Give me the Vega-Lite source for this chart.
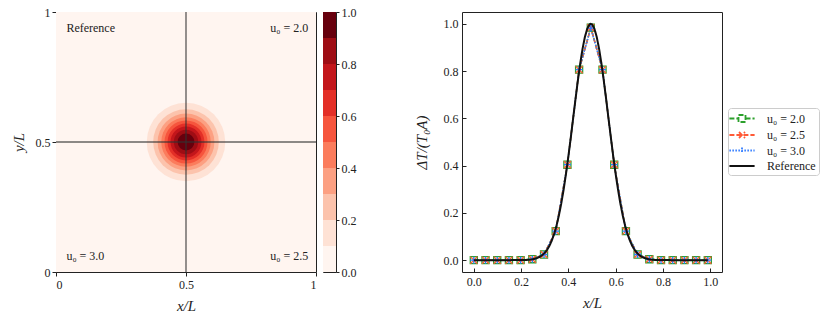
{
  "$schema": "https://vega.github.io/schema/vega-lite/v6.json",
  "padding": {"left": 10, "top": 5, "right": 0, "bottom": 0},
  "background": "white",
  "resolve": {"scale": {"color": "independent", "strokeDash": "independent", "shape": "independent"}},
  "datasets": {
    "heat": [
      {"level": 0.1, "r": 0.151},
      {"level": 0.2, "r": 0.1262},
      {"level": 0.3, "r": 0.1092},
      {"level": 0.4, "r": 0.0952},
      {"level": 0.5, "r": 0.0828},
      {"level": 0.6, "r": 0.0711},
      {"level": 0.7, "r": 0.0594},
      {"level": 0.8, "r": 0.047},
      {"level": 0.9, "r": 0.0323}
    ],
    "cbar": [
      {"lo": 0.0, "hi": 0.1}, {"lo": 0.1, "hi": 0.2}, {"lo": 0.2, "hi": 0.3}, {"lo": 0.3, "hi": 0.4}, {"lo": 0.4, "hi": 0.5},
      {"lo": 0.5, "hi": 0.6}, {"lo": 0.6, "hi": 0.7}, {"lo": 0.7, "hi": 0.8}, {"lo": 0.8, "hi": 0.9}, {"lo": 0.9, "hi": 1.0}
    ],
    "labels": [
      {"t": "Reference", "x": 0.04, "y": 0.94},
      {"t": "u₀ = 3.0", "x": 0.04, "y": 0.06},
      {"t": "u₀ = 2.0", "x": 0.97, "y": 0.94},
      {"t": "u₀ = 2.5", "x": 0.97, "y": 0.06}
    ],
    "pts": [
      {"s": "u₀ = 2.0", "x": 0, "v": 0}, {"s": "u₀ = 2.0", "x": 0.0495, "v": 0}, {"s": "u₀ = 2.0", "x": 0.099, "v": 0}, {"s": "u₀ = 2.0", "x": 0.1485, "v": 0}, {"s": "u₀ = 2.0", "x": 0.198, "v": 0}, {"s": "u₀ = 2.0", "x": 0.2475, "v": 0.004}, {"s": "u₀ = 2.0", "x": 0.297, "v": 0.024}, {"s": "u₀ = 2.0", "x": 0.3465, "v": 0.123}, {"s": "u₀ = 2.0", "x": 0.396, "v": 0.404}, {"s": "u₀ = 2.0", "x": 0.4455, "v": 0.806}, {"s": "u₀ = 2.0", "x": 0.495, "v": 0.984}, {"s": "u₀ = 2.0", "x": 0.5445, "v": 0.806}, {"s": "u₀ = 2.0", "x": 0.594, "v": 0.404}, {"s": "u₀ = 2.0", "x": 0.6435, "v": 0.123}, {"s": "u₀ = 2.0", "x": 0.693, "v": 0.024}, {"s": "u₀ = 2.0", "x": 0.7425, "v": 0.004}, {"s": "u₀ = 2.0", "x": 0.792, "v": 0}, {"s": "u₀ = 2.0", "x": 0.8415, "v": 0}, {"s": "u₀ = 2.0", "x": 0.891, "v": 0}, {"s": "u₀ = 2.0", "x": 0.9405, "v": 0}, {"s": "u₀ = 2.0", "x": 0.99, "v": 0},
      {"s": "u₀ = 2.5", "x": 0, "v": 0}, {"s": "u₀ = 2.5", "x": 0.0495, "v": 0}, {"s": "u₀ = 2.5", "x": 0.099, "v": 0}, {"s": "u₀ = 2.5", "x": 0.1485, "v": 0}, {"s": "u₀ = 2.5", "x": 0.198, "v": 0}, {"s": "u₀ = 2.5", "x": 0.2475, "v": 0.004}, {"s": "u₀ = 2.5", "x": 0.297, "v": 0.024}, {"s": "u₀ = 2.5", "x": 0.3465, "v": 0.123}, {"s": "u₀ = 2.5", "x": 0.396, "v": 0.404}, {"s": "u₀ = 2.5", "x": 0.4455, "v": 0.806}, {"s": "u₀ = 2.5", "x": 0.495, "v": 0.983}, {"s": "u₀ = 2.5", "x": 0.5445, "v": 0.806}, {"s": "u₀ = 2.5", "x": 0.594, "v": 0.404}, {"s": "u₀ = 2.5", "x": 0.6435, "v": 0.123}, {"s": "u₀ = 2.5", "x": 0.693, "v": 0.024}, {"s": "u₀ = 2.5", "x": 0.7425, "v": 0.004}, {"s": "u₀ = 2.5", "x": 0.792, "v": 0}, {"s": "u₀ = 2.5", "x": 0.8415, "v": 0}, {"s": "u₀ = 2.5", "x": 0.891, "v": 0}, {"s": "u₀ = 2.5", "x": 0.9405, "v": 0}, {"s": "u₀ = 2.5", "x": 0.99, "v": 0},
      {"s": "u₀ = 3.0", "x": 0, "v": 0}, {"s": "u₀ = 3.0", "x": 0.0495, "v": 0}, {"s": "u₀ = 3.0", "x": 0.099, "v": 0}, {"s": "u₀ = 3.0", "x": 0.1485, "v": 0}, {"s": "u₀ = 3.0", "x": 0.198, "v": 0}, {"s": "u₀ = 3.0", "x": 0.2475, "v": 0.004}, {"s": "u₀ = 3.0", "x": 0.297, "v": 0.024}, {"s": "u₀ = 3.0", "x": 0.3465, "v": 0.123}, {"s": "u₀ = 3.0", "x": 0.396, "v": 0.404}, {"s": "u₀ = 3.0", "x": 0.4455, "v": 0.806}, {"s": "u₀ = 3.0", "x": 0.495, "v": 0.982}, {"s": "u₀ = 3.0", "x": 0.5445, "v": 0.806}, {"s": "u₀ = 3.0", "x": 0.594, "v": 0.404}, {"s": "u₀ = 3.0", "x": 0.6435, "v": 0.123}, {"s": "u₀ = 3.0", "x": 0.693, "v": 0.024}, {"s": "u₀ = 3.0", "x": 0.7425, "v": 0.004}, {"s": "u₀ = 3.0", "x": 0.792, "v": 0}, {"s": "u₀ = 3.0", "x": 0.8415, "v": 0}, {"s": "u₀ = 3.0", "x": 0.891, "v": 0}, {"s": "u₀ = 3.0", "x": 0.9405, "v": 0}, {"s": "u₀ = 3.0", "x": 0.99, "v": 0}
    ],
    "ref": [
      {"s": "Reference", "x": 0.0, "v": 0}, {"s": "Reference", "x": 0.1, "v": 0}, {"s": "Reference", "x": 0.2, "v": 0.0004}, {"s": "Reference", "x": 0.21, "v": 0.0006}, {"s": "Reference", "x": 0.22, "v": 0.001}, {"s": "Reference", "x": 0.23, "v": 0.0016}, {"s": "Reference", "x": 0.24, "v": 0.0026}, {"s": "Reference", "x": 0.25, "v": 0.0042}, {"s": "Reference", "x": 0.26, "v": 0.0065}, {"s": "Reference", "x": 0.27, "v": 0.0098}, {"s": "Reference", "x": 0.28, "v": 0.0147}, {"s": "Reference", "x": 0.29, "v": 0.0216}, {"s": "Reference", "x": 0.3, "v": 0.0311}, {"s": "Reference", "x": 0.31, "v": 0.0439}, {"s": "Reference", "x": 0.32, "v": 0.061}, {"s": "Reference", "x": 0.33, "v": 0.0833}, {"s": "Reference", "x": 0.34, "v": 0.1115}, {"s": "Reference", "x": 0.35, "v": 0.1466}, {"s": "Reference", "x": 0.36, "v": 0.1894}, {"s": "Reference", "x": 0.37, "v": 0.2401}, {"s": "Reference", "x": 0.38, "v": 0.299}, {"s": "Reference", "x": 0.39, "v": 0.3654}, {"s": "Reference", "x": 0.4, "v": 0.4387}, {"s": "Reference", "x": 0.41, "v": 0.517}, {"s": "Reference", "x": 0.42, "v": 0.5983}, {"s": "Reference", "x": 0.43, "v": 0.6799}, {"s": "Reference", "x": 0.44, "v": 0.7587}, {"s": "Reference", "x": 0.45, "v": 0.8312}, {"s": "Reference", "x": 0.46, "v": 0.8942}, {"s": "Reference", "x": 0.47, "v": 0.9445}, {"s": "Reference", "x": 0.48, "v": 0.9797}, {"s": "Reference", "x": 0.49, "v": 0.9977}, {"s": "Reference", "x": 0.495, "v": 1.0}, {"s": "Reference", "x": 0.5, "v": 0.9977}, {"s": "Reference", "x": 0.51, "v": 0.9797}, {"s": "Reference", "x": 0.52, "v": 0.9445}, {"s": "Reference", "x": 0.53, "v": 0.8942}, {"s": "Reference", "x": 0.54, "v": 0.8312}, {"s": "Reference", "x": 0.55, "v": 0.7587}, {"s": "Reference", "x": 0.56, "v": 0.6799}, {"s": "Reference", "x": 0.57, "v": 0.5983}, {"s": "Reference", "x": 0.58, "v": 0.517}, {"s": "Reference", "x": 0.59, "v": 0.4387}, {"s": "Reference", "x": 0.6, "v": 0.3654}, {"s": "Reference", "x": 0.61, "v": 0.299}, {"s": "Reference", "x": 0.62, "v": 0.2401}, {"s": "Reference", "x": 0.63, "v": 0.1894}, {"s": "Reference", "x": 0.64, "v": 0.1466}, {"s": "Reference", "x": 0.65, "v": 0.1115}, {"s": "Reference", "x": 0.66, "v": 0.0833}, {"s": "Reference", "x": 0.67, "v": 0.061}, {"s": "Reference", "x": 0.68, "v": 0.0439}, {"s": "Reference", "x": 0.69, "v": 0.0311}, {"s": "Reference", "x": 0.7, "v": 0.0216}, {"s": "Reference", "x": 0.71, "v": 0.0147}, {"s": "Reference", "x": 0.72, "v": 0.0098}, {"s": "Reference", "x": 0.73, "v": 0.0065}, {"s": "Reference", "x": 0.74, "v": 0.0042}, {"s": "Reference", "x": 0.75, "v": 0.0026}, {"s": "Reference", "x": 0.76, "v": 0.0016}, {"s": "Reference", "x": 0.77, "v": 0.001}, {"s": "Reference", "x": 0.78, "v": 0.0006}, {"s": "Reference", "x": 0.79, "v": 0.0004}, {"s": "Reference", "x": 0.89, "v": 0}, {"s": "Reference", "x": 0.99, "v": 0}
    ]
  },
  "spacing": 56,
  "hconcat": [
    {
      "spacing": 4,
      "resolve": {"scale": {"color": "independent"}},
      "hconcat": [
        {
          "width": 260,
          "height": 260,
          "layer": [
            {
              "data": {"values": [{"x0": 0, "x1": 1, "y0": 0, "y1": 1, "level": 0}]},
              "mark": {"type": "rect"},
              "encoding": {
                "x": {"field": "x0", "type": "quantitative", "scale": {"domain": [0, 1], "nice": false}, "axis": {"values": [0, 0.5, 1], "format": "~g", "title": "x/L", "tickSize": 4, "labelPadding": 3, "titlePadding": 8}},
                "x2": {"field": "x1"},
                "y": {"field": "y0", "type": "quantitative", "scale": {"domain": [0, 1], "nice": false}, "axis": {"values": [0, 0.5, 1], "format": "~g", "title": "y/L", "tickSize": 4, "labelPadding": 2, "titlePadding": 9}},
                "y2": {"field": "y1"},
                "color": {"field": "level", "type": "ordinal", "scale": {"domain": [0, 0.1, 0.2, 0.3, 0.4, 0.5, 0.6, 0.7, 0.8, 0.9], "range": ["#fff5f0", "#fee2d5", "#fcc3ac", "#fca082", "#fb7c5c", "#f6553d", "#e32f27", "#c3161b", "#9e0d14", "#67000d"]}, "legend": null}
              }
            },
            {
              "data": {"name": "heat"},
              "mark": {"type": "arc", "theta": 0, "theta2": 6.2832},
              "encoding": {
                "radius": {"field": "r", "type": "quantitative", "stack": null, "scale": {"type": "linear", "domain": [0, 0.5], "range": [0, 130], "zero": true}},
                "color": {"field": "level", "type": "ordinal", "legend": null}
              }
            },
            {
              "data": {"values": [{"c": 0.5}]},
              "mark": {"type": "rule", "color": "#333", "strokeWidth": 1.4, "opacity": 0.75},
              "encoding": {"x": {"field": "c", "type": "quantitative"}}
            },
            {
              "data": {"values": [{"c": 0.5}]},
              "mark": {"type": "rule", "color": "#333", "strokeWidth": 1.4, "opacity": 0.75},
              "encoding": {"y": {"field": "c", "type": "quantitative"}}
            },
            {
              "data": {"name": "labels"},
              "transform": [{"filter": "datum.x < 0.5"}],
              "mark": {"type": "text", "align": "left", "baseline": "middle", "fontSize": 12, "color": "#222"},
              "encoding": {"x": {"field": "x", "type": "quantitative"}, "y": {"field": "y", "type": "quantitative"}, "text": {"field": "t"}}
            },
            {
              "data": {"name": "labels"},
              "transform": [{"filter": "datum.x >= 0.5"}],
              "mark": {"type": "text", "align": "right", "baseline": "middle", "fontSize": 12, "color": "#222"},
              "encoding": {"x": {"field": "x", "type": "quantitative"}, "y": {"field": "y", "type": "quantitative"}, "text": {"field": "t"}}
            }
          ]
        },
        {
          "width": 13,
          "height": 260,
          "data": {"name": "cbar"},
          "mark": {"type": "rect"},
          "encoding": {
            "y": {"field": "lo", "type": "quantitative", "scale": {"domain": [0, 1], "nice": false}, "axis": {"orient": "right", "values": [0, 0.2, 0.4, 0.6, 0.8, 1], "format": ".1f", "title": null, "tickSize": 3, "labelPadding": 2}},
            "y2": {"field": "hi"},
            "color": {"field": "lo", "type": "ordinal", "scale": {"domain": [0, 0.1, 0.2, 0.3, 0.4, 0.5, 0.6, 0.7, 0.8, 0.9], "range": ["#fff5f0", "#fee2d5", "#fcc3ac", "#fca082", "#fb7c5c", "#f6553d", "#e32f27", "#c3161b", "#9e0d14", "#67000d"]}, "legend": null}
          }
        }
      ]
    },
    {
      "width": 260,
      "height": 260,
      "encoding": {
        "x": {"field": "x", "type": "quantitative", "scale": {"domain": [-0.05, 1.05], "nice": false}, "axis": {"values": [0, 0.2, 0.4, 0.6, 0.8, 1], "format": ".1f", "title": "x/L", "tickSize": -4, "labelPadding": 8, "titlePadding": 8}},
        "y": {"field": "v", "type": "quantitative", "scale": {"domain": [-0.05, 1.05], "nice": false}, "axis": {"values": [0, 0.2, 0.4, 0.6, 0.8, 1], "format": ".1f", "title": "ΔT/(T₀A)", "tickSize": -4, "labelPadding": 8, "titlePadding": 14}}
      },
      "layer": [
        {
          "data": {"name": "pts"},
          "mark": {"type": "line", "strokeWidth": 1.5},
          "encoding": {
            "color": {"field": "s", "type": "nominal", "scale": {"domain": ["u₀ = 2.0", "u₀ = 2.5", "u₀ = 3.0", "Reference"], "range": ["#2ca02c", "#ff5a36", "#2f7bff", "#111111"]}, "title": null,
              "legend": {"orient": "none", "legendX": 266, "legendY": 96, "title": null, "symbolSize": 196, "symbolOffset": 3.5, "symbolStrokeWidth": 1.8, "labelFontSize": 12, "labelFont": "Liberation Serif, DejaVu Serif, serif", "labelColor": "#222", "padding": 2.5, "rowPadding": 0.5, "labelOffset": 17, "strokeColor": "#cccccc", "fillColor": "white", "cornerRadius": 3,
                "encode": {"symbols": {"update": {"fill": {"value": "transparent"}, "shape": {"signal": "datum.index === 0 ? 'M-1.8,0H-0.5M0.5,0H1.8M-0.5,-0.5H0.5V0.5H-0.5Z' : datum.index === 1 ? 'M-1.8,0H1.8M-0.43,-0.43L0.43,0.43M-0.43,0.43L0.43,-0.43' : datum.index === 2 ? 'M-1.8,0H1.8M0,-0.43V0.43' : 'M-1.8,0H1.8'"}}}}}},
            "strokeDash": {"field": "s", "type": "nominal", "title": null, "scale": {"domain": ["u₀ = 2.0", "u₀ = 2.5", "u₀ = 3.0", "Reference"], "range": [[5, 2], [5, 2], [1.5, 1.5], [1, 0]]}}
          }
        },
        {
          "data": {"name": "pts"},
          "mark": {"type": "point", "filled": false, "strokeWidth": 1.3, "size": 50, "opacity": 1},
          "encoding": {
            "color": {"field": "s", "type": "nominal", "title": null},
            "shape": {"field": "s", "type": "nominal", "legend": null, "scale": {"domain": ["u₀ = 2.0", "u₀ = 2.5", "u₀ = 3.0"], "range": ["square", "M-1,-1L1,1M-1,1L1,-1", "M-1,0L1,0M0,-1L0,1"]}}
          }
        },
        {
          "data": {"name": "ref"},
          "mark": {"type": "line", "strokeWidth": 2},
          "encoding": {
            "color": {"field": "s", "type": "nominal", "title": null},
            "strokeDash": {"field": "s", "type": "nominal", "title": null}
          }
        }
      ]
    }
  ],
  "config": {
    "font": "Liberation Serif, DejaVu Serif, serif",
    "view": {"stroke": "#222", "strokeWidth": 1},
    "axis": {"labelFont": "Liberation Serif, DejaVu Serif, serif", "labelFontSize": 12, "labelColor": "#222", "titleFont": "Liberation Serif, DejaVu Serif, serif", "titleFontSize": 15, "titleFontStyle": "italic", "titleFontWeight": "normal", "titleColor": "#222", "domain": false, "grid": false, "tickColor": "#222"},
    "text": {"font": "Liberation Serif, DejaVu Serif, serif"}
  }
}
